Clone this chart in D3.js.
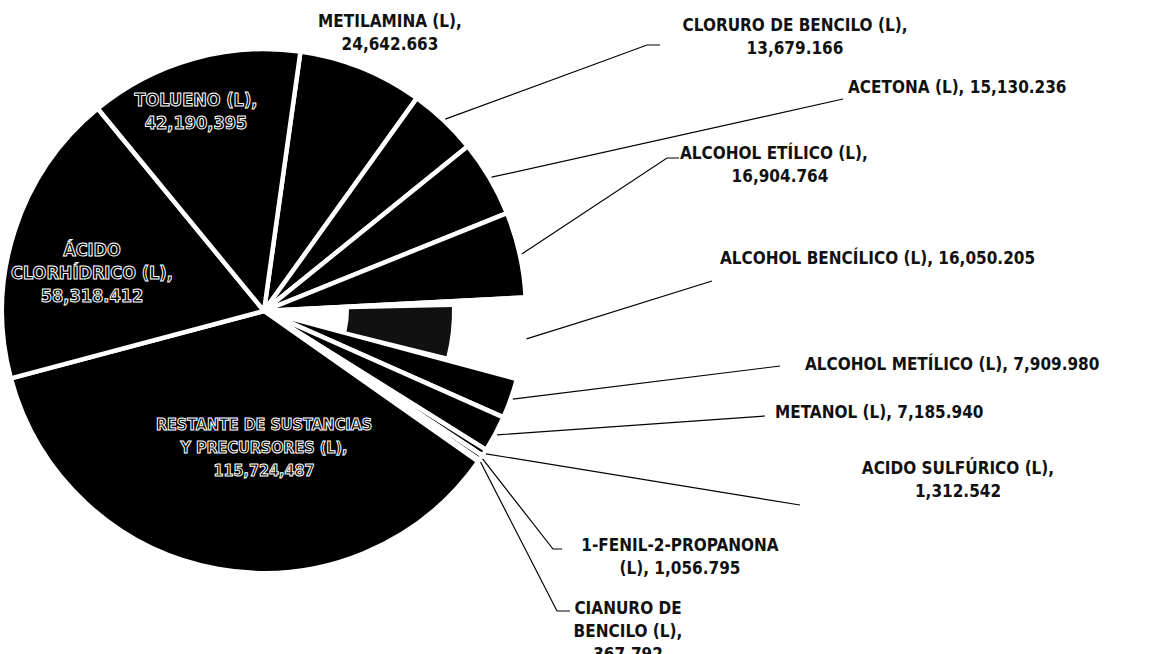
<!DOCTYPE html>
<html>
<head>
<meta charset="utf-8">
<script src="https://cdn.jsdelivr.net/npm/d3@7"></script>
<style>
    body { margin: 0; background: #fff; }
    svg { display: block; }
    text { font-family: "DejaVu Sans Condensed", "DejaVu Sans", sans-serif; font-weight: bold; }
</style>
</head>
<body>
<svg width="1166" height="654"></svg>
<script>
// values in thousands of litres, clockwise from the top
var categories = ["METILAMINA", "CLORURO DE BENCILO", "ACETONA", "ALCOHOL ETÍLICO",
    "ALCOHOL BENCÍLICO", "ALCOHOL METÍLICO", "METANOL", "ACIDO SULFÚRICO",
    "1-FENIL-2-PROPANONA", "CIANURO DE BENCILO", "RESTANTE DE SUSTANCIAS Y PRECURSORES",
    "ÁCIDO CLORHÍDRICO", "TOLUENO"];
var values = [24642.663, 13679.166, 15130.236, 16904.764, 16050.205, 7909.980, 7185.940,
    1312.542, 1056.795, 367.792, 115724.487, 58318.412, 42190.395];
var valueLabels = ["24,642.663", "13,679.166", "15,130.236", "16,904.764", "16,050.205",
    "7,909.980", "7,185.940", "1,312.542", "1,056.795", "367.792", "115,724,487",
    "58,318.412", "42,190,395"];

var svg = d3.select("svg"),
    cx = 264, cy = 311,
    radius = 262,
    offset = 8 * Math.PI / 180;

var data = categories.map(function (c, i) {
    return {name: c, value: values[i], label: valueLabels[i]};
});

var pie = d3.pie()
    .sort(null)
    .value(function (d) { return d.value; })
    .startAngle(offset)
    .endAngle(offset + 2 * Math.PI);

var arc = d3.arc().innerRadius(0).outerRadius(radius);

// label placement, one entry per slice
var layout = [
    {lines: function (d) { return [d.name + " (L),", d.label]; }, x: 390, y: 27, anchor: "middle"},
    {lines: function (d) { return [d.name + " (L),", d.label]; }, x: 795, y: 31, anchor: "middle",
        leader: [[647, 45], [660, 45]]},
    {lines: function (d) { return [d.name + " (L), " + d.label]; }, x: 848, y: 93, anchor: "start",
        leader: [[843, 99]]},
    {lines: function (d) { return [d.name + " (L),", d.label]; }, x: 680, y: 159, anchor: "start",
        dx2: 100, leader: [[667, 158], [679, 158]]},
    {lines: function (d) { return [d.name + " (L), " + d.label]; }, x: 720, y: 264, anchor: "start",
        leader: [[712, 281]]},
    {lines: function (d) { return [d.name + " (L), " + d.label]; }, x: 805, y: 370, anchor: "start",
        leader: [[780, 366]]},
    {lines: function (d) { return [d.name + " (L), " + d.label]; }, x: 775, y: 418, anchor: "start",
        leader: [[765, 416]]},
    {lines: function (d) { return [d.name + " (L),", d.label]; }, x: 958, y: 474, anchor: "middle",
        leader: [[800, 505]]},
    {lines: function (d) { return [d.name, "(L), " + d.label]; }, x: 680, y: 551, anchor: "middle",
        leader: [[553, 549], [562, 549]]},
    {lines: function (d) { return ["CIANURO DE", "BENCILO (L),", d.label]; }, x: 628, y: 614, anchor: "middle",
        leader: [[557, 611], [570, 611]]},
    {inside: true, size: 16, lines: function (d) { return ["RESTANTE DE SUSTANCIAS", "Y PRECURSORES (L),", d.label]; },
        x: 264, y: 430},
    {inside: true, size: 18, lines: function (d) { return ["ÁCIDO", "CLORHÍDRICO (L),", d.label]; }, x: 92, y: 256},
    {inside: true, size: 18, lines: function (d) { return [d.name + " (L),", d.label]; }, x: 196, y: 106}
];

var g = svg.append("g").attr("transform", "translate(" + cx + "," + cy + ")");

var arcs = pie(data);

g.selectAll("path.slice")
    .data(arcs)
    .enter().append("path")
    .attr("class", "slice")
    .attr("d", arc)
    .attr("fill", function (d, i) { return i === 4 ? "#fff" : "#000"; })
    .attr("stroke", "#fff")
    .attr("stroke-width", 4.5)
    .attr("stroke-linejoin", "round");

// washed-out patch left by the scan on the alcohol bencílico slice
var patch = arcs[4];
g.append("path")
    .attr("d", d3.arc().innerRadius(85).outerRadius(188)({
        startAngle: patch.startAngle + 0.03,
        endAngle: patch.endAngle - 0.02
    }))
    .attr("fill", "#111");

// leader lines
var leaderLine = d3.line();
arcs.forEach(function (d, i) {
    var L = layout[i];
    if (!L.leader) return;
    var a = (d.startAngle + d.endAngle) / 2,
        r = radius + 2,
        p0 = [cx + Math.sin(a) * r, cy - Math.cos(a) * r];
    svg.append("path")
        .attr("d", leaderLine([p0].concat(L.leader)))
        .attr("fill", "none")
        .attr("stroke", "#000")
        .attr("stroke-width", 1.2);
});

// labels
arcs.forEach(function (d, i) {
    var L = layout[i],
        lines = L.lines(d.data),
        t = svg.append("text")
            .attr("font-size", L.size || 17)
            .attr("text-anchor", L.inside ? "middle" : L.anchor);
    if (L.inside) {
        t.attr("fill", "#000").attr("stroke", "#fff").attr("stroke-width", 1);
    } else {
        t.attr("fill", "#111");
    }
    lines.forEach(function (s, k) {
        var ts = t.append("tspan").attr("y", L.y + k * 23).text(s);
        if (k > 0 && L.dx2) ts.attr("x", L.x + L.dx2).attr("text-anchor", "middle");
        else ts.attr("x", L.x);
    });
});
</script>
</body>
</html>
